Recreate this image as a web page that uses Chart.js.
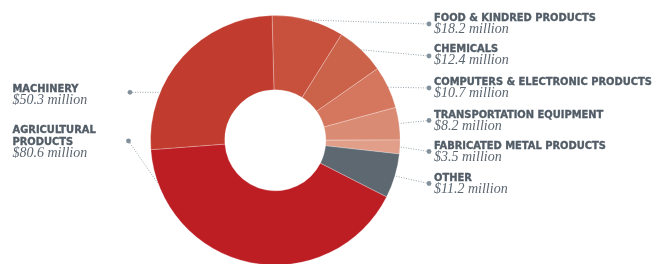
<!DOCTYPE html>
<html><head><meta charset="utf-8">
<script src="https://cdn.jsdelivr.net/npm/chart.js@4/dist/chart.umd.min.js"></script>
<style>
html,body{margin:0;padding:0;background:#fff;overflow:hidden;width:662px;height:264px}
#wrap{position:relative;width:662px;height:268px}
</style>
</head><body>
<div id="wrap"><canvas id="c" width="662" height="268"></canvas></div>
<script>
// ---- data ----
const categories = ["Food & Kindred Products","Chemicals","Computers & Electronic Products","Transportation Equipment","Fabricated Metal Products","Other","Agricultural Products","Machinery"];
const values = [18.2, 12.4, 10.7, 8.2, 3.5, 11.2, 80.6, 50.3];
const headerLines = [["FOOD & KINDRED PRODUCTS"],["CHEMICALS"],["COMPUTERS & ELECTRONIC PRODUCTS"],["TRANSPORTATION EQUIPMENT"],["FABRICATED METAL PRODUCTS"],["OTHER"],["AGRICULTURAL","PRODUCTS"],["MACHINERY"]];
const valueLabels = ["$18.2 million","$12.4 million","$10.7 million","$8.2 million","$3.5 million","$11.2 million","$80.6 million","$50.3 million"];
const colors = ["#c8513e","#cb634b","#d5775e","#da8b73","#e19f89","#5d6871","#bd1e24","#c13b2e"];

// ---- label layout (positions only) ----
const labelLayout = [
  {x:434, y:20.7, dot:[429,24], frac:0.5},
  {x:434, y:52.3, dot:[429,56], frac:0.5},
  {x:434, y:85,   dot:[429,88], frac:0.5},
  {x:434, y:117.7,dot:[429,120.5], frac:0.5},
  {x:434, y:149,  dot:[429,151.5], frac:0.5},
  {x:434, y:181,  dot:[429,183.5], frac:0.5},
  {x:12.5,y:133.3,dot:[128.5,141], frac:0.89},
  {x:12.5,y:92.3, dot:[130,92.3], frac:0.29}
];

const HEAD_FONT = '700 11px "Liberation Sans Narrow", "DejaVu Sans Condensed", "Roboto Condensed", sans-serif';
const VAL_FONT = 'italic 14px "Liberation Serif", "DejaVu Serif", serif';

const labelPlugin = {
  id:'labels',
  afterDraw(chart){
    const ctx = chart.ctx;
    const meta = chart.getDatasetMeta(0);
    ctx.save();
    meta.data.forEach((arc,i)=>{
      const L = labelLayout[i];
      const p = arc.getProps(['x','y','startAngle','endAngle','outerRadius'], true);
      const a = p.startAngle + (p.endAngle - p.startAngle)*L.frac;
      const ax = p.x + Math.cos(a)*p.outerRadius;
      const ay = p.y + Math.sin(a)*p.outerRadius;
      // leader
      ctx.strokeStyle = '#98a5ae';
      ctx.lineWidth = 1;
      ctx.setLineDash([1,1.5]);
      ctx.beginPath();
      ctx.moveTo(L.dot[0], L.dot[1]);
      ctx.lineTo(ax, ay);
      ctx.stroke();
      ctx.setLineDash([]);
      ctx.fillStyle = '#82919b';
      ctx.beginPath();
      ctx.arc(L.dot[0], L.dot[1], 2.4, 0, Math.PI*2);
      ctx.fill();
      // text
      ctx.textAlign = 'left';
      ctx.textBaseline = 'alphabetic';
      ctx.fillStyle = '#525d67';
      ctx.strokeStyle = '#525d67';
      ctx.lineWidth = 0.35;
      ctx.font = HEAD_FONT;
      let y = L.y;
      headerLines[i].forEach((t)=>{
        ctx.fillText(t, L.x, y);
        ctx.strokeText(t, L.x, y);
        y += 11.7;
      });
      y = y - 11.7 + 12;
      ctx.fillStyle = '#5a6570';
      ctx.font = VAL_FONT;
      ctx.fillText(valueLabels[i], L.x, y);
    });
    ctx.restore();
  }
};

new Chart(document.getElementById('c'), {
  type:'doughnut',
  data:{ labels: categories, datasets:[{ data: values, backgroundColor: colors, borderColor:'rgba(255,255,255,0.25)', borderWidth:1, hoverOffset:0 }]},
  options:{
    responsive:false, animation:false, cutout:'40.5%', rotation:-1.5,
    layout:{ padding:{ left:150, right:261.4, top:15, bottom:2.4 } },
    plugins:{ legend:{display:false}, tooltip:{enabled:false} }
  },
  plugins:[labelPlugin]
});
</script>
</body></html>
